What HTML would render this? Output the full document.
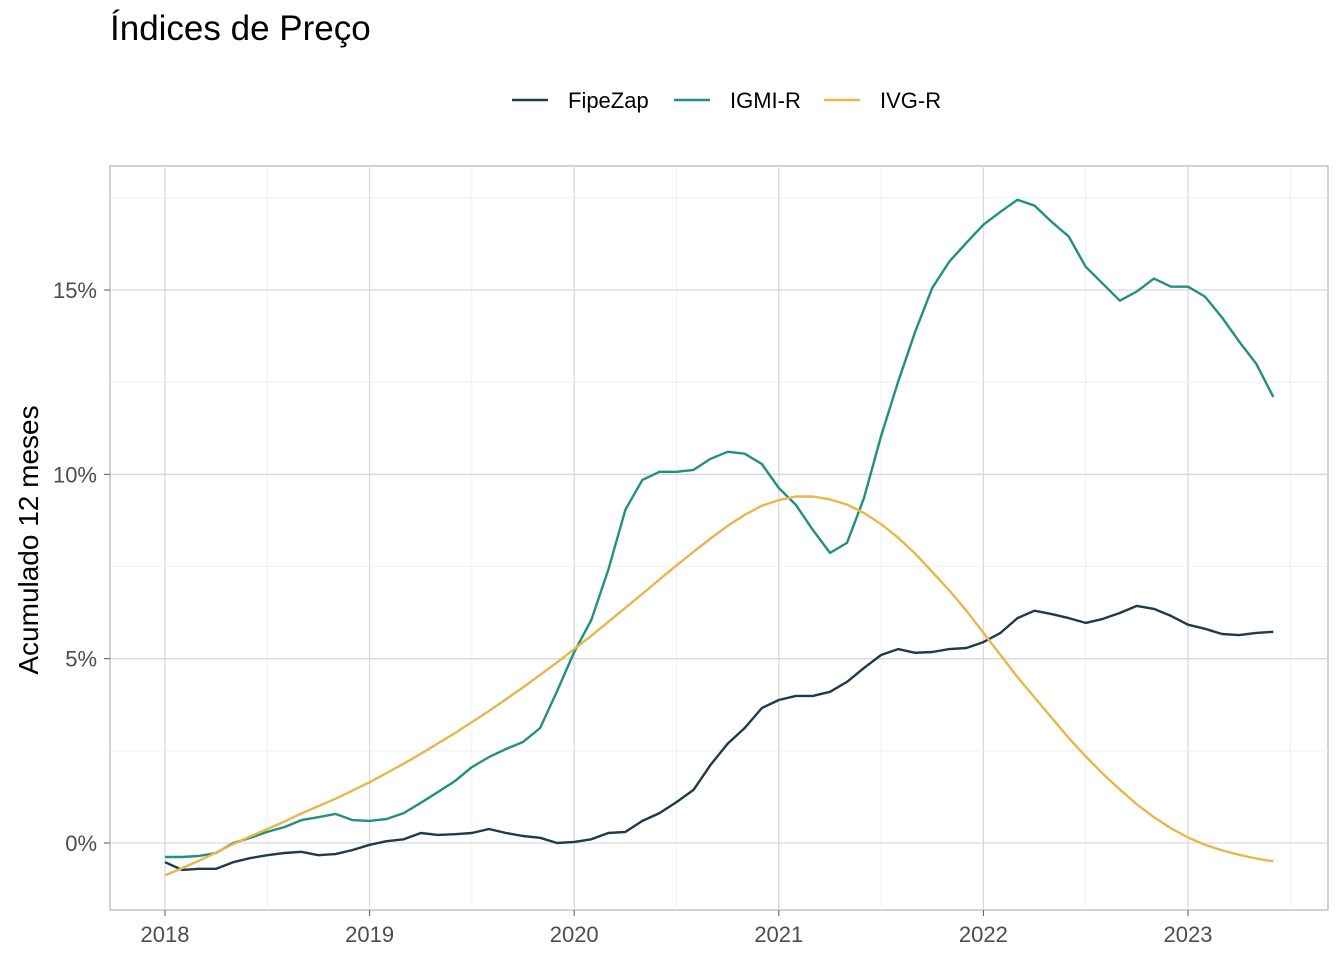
<!DOCTYPE html>
<html><head><meta charset="utf-8"><style>
body{margin:0;background:#fff;font-family:"Liberation Sans",sans-serif;}
svg text{font-family:"Liberation Sans",sans-serif;}
</style></head><body>
<svg id="chart" width="1344" height="960">
<text x="110" y="40" font-size="35" fill="#000">Índices de Preço</text>
<g id="legend"></g>
<rect x="110" y="166" width="1218" height="744" fill="none" stroke="#b3b3b3" stroke-width="1.2"/>
<g id="grid"></g><g id="axes"></g><g id="series"></g>
<text transform="translate(38,540) rotate(-90)" text-anchor="middle" font-size="28" fill="#000">Acumulado 12 meses</text>
</svg>
<script>
const seriesNames=["FipeZap","IGMI-R","IVG-R"];
const seriesColors=["#1f3a4a","#219080","#e6b84a"];
const fipezap=[-0.52,-0.73,-0.7,-0.7,-0.52,-0.41,-0.33,-0.27,-0.24,-0.33,-0.3,-0.19,-0.05,0.05,0.1,0.27,0.22,0.24,0.27,0.38,0.27,0.19,0.14,0,0.03,0.1,0.27,0.3,0.6,0.81,1.11,1.44,2.12,2.69,3.12,3.66,3.88,3.99,3.99,4.1,4.37,4.75,5.1,5.26,5.16,5.18,5.26,5.29,5.45,5.7,6.1,6.3,6.21,6.1,5.97,6.08,6.24,6.43,6.35,6.16,5.92,5.81,5.67,5.64,5.7,5.73];
const igmir=[-0.38,-0.38,-0.35,-0.27,0,0.14,0.3,0.43,0.62,0.7,0.79,0.62,0.6,0.65,0.81,1.09,1.38,1.68,2.06,2.33,2.55,2.74,3.12,4.12,5.18,6.05,7.41,9.04,9.85,10.07,10.07,10.12,10.42,10.61,10.56,10.28,9.63,9.17,8.49,7.87,8.14,9.36,11.04,12.51,13.87,15.06,15.77,16.28,16.77,17.12,17.45,17.29,16.85,16.45,15.63,15.17,14.71,14.96,15.31,15.09,15.09,14.82,14.25,13.6,13.0,12.1];
const ivgr=[-0.88,-0.68,-0.48,-0.26,-0.03,0.18,0.38,0.58,0.8,1.0,1.2,1.42,1.65,1.9,2.15,2.42,2.7,2.98,3.28,3.58,3.9,4.22,4.56,4.9,5.26,5.62,6.0,6.38,6.76,7.15,7.53,7.9,8.26,8.6,8.9,9.15,9.3,9.4,9.4,9.32,9.18,8.95,8.65,8.28,7.85,7.35,6.85,6.3,5.7,5.1,4.5,3.95,3.4,2.85,2.35,1.88,1.45,1.05,0.7,0.4,0.15,-0.05,-0.2,-0.32,-0.42,-0.5];
const xTickLabels=["2018","2019","2020","2021","2022","2023"];
const yTicks=[0,5,10,15];
const ns="http://www.w3.org/2000/svg";
function xScale(m){return 165+m*(1188-165)/60;}
function yScale(v){return 843-v*(843-290)/15;}
function mk(tag,attrs,parent){const e=document.createElementNS(ns,tag);for(const k in attrs)e.setAttribute(k,attrs[k]);parent.appendChild(e);return e;}
const grid=document.getElementById('grid'),axes=document.getElementById('axes'),ser=document.getElementById('series'),leg=document.getElementById('legend');
for(let i=0;i<xTickLabels.length;i++){
  const x=xScale(i*12);
  let l=mk('line',{x1:x,x2:x,y1:166,y2:910,stroke:'#d9d9d9','stroke-width':1.3},grid);
  
  const xm=xScale(i*12+6);
  if(xm<1328){let m=mk('line',{x1:xm,x2:xm,y1:166,y2:910,stroke:'#ececec','stroke-width':0.8},grid);
  }
  mk('line',{x1:x,x2:x,y1:910,y2:916,stroke:'#555'},axes);
  let t=mk('text',{x:x,y:942,'text-anchor':'middle','font-size':22,fill:'#4d4d4d'},axes);t.textContent=xTickLabels[i];
  
}
for(const v of yTicks){
  const y=yScale(v);
  let l=mk('line',{x1:110,x2:1328,y1:y,y2:y,stroke:'#d9d9d9','stroke-width':1.3},grid);
  
  const ym=yScale(v+2.5);
  let m=mk('line',{x1:110,x2:1328,y1:ym,y2:ym,stroke:'#ececec','stroke-width':0.8},grid);
  
  mk('line',{x1:104,x2:110,y1:y,y2:y,stroke:'#555'},axes);
  let t=mk('text',{x:97,y:y+8,'text-anchor':'end','font-size':22,fill:'#4d4d4d'},axes);t.textContent=v+'%';
  
}
const data=[fipezap,igmir,ivgr];
for(let s=0;s<3;s++){
  const d=data[s].map((v,i)=>(i?'L':'M')+xScale(i).toFixed(1)+','+yScale(v).toFixed(1)).join(' ');
  let p=mk('path',{d:d,fill:'none',stroke:seriesColors[s],'stroke-width':2.4,'stroke-linejoin':'round'},ser);
  
  
}
const legX=[512,674,824];
for(let s=0;s<3;s++){
  const g=mk('g',{},leg);
  
  
  mk('line',{x1:legX[s],x2:legX[s]+36,y1:100,y2:100,stroke:seriesColors[s],'stroke-width':2.4},g);
  let t=mk('text',{x:legX[s]+56,y:108,'font-size':22,fill:'#000'},g);t.textContent=seriesNames[s];
}
</script>
</body></html>
